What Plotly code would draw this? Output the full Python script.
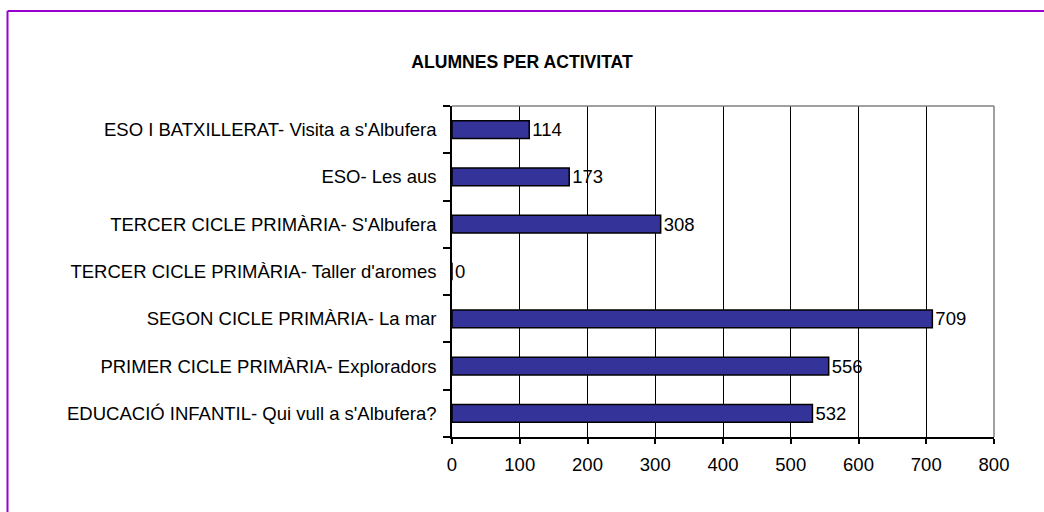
import plotly.graph_objects as go

categories = [
    "EDUCACIÓ INFANTIL- Qui vull a s'Albufera?",
    "PRIMER CICLE PRIMÀRIA- Exploradors",
    "SEGON CICLE PRIMÀRIA- La mar",
    "TERCER CICLE PRIMÀRIA- Taller d'aromes",
    "TERCER CICLE PRIMÀRIA- S'Albufera",
    "ESO- Les aus",
    "ESO I BATXILLERAT- Visita a s'Albufera",
]
values = [532, 556, 709, 0, 308, 173, 114]
x_ticks = [0, 100, 200, 300, 400, 500, 600, 700, 800]
title_text = "ALUMNES PER ACTIVITAT"

W, H = 1044, 512
L, R, T, B = 452, 50, 106, 75
pw = W - L - R
ph = H - T - B
FONT = "Liberation Sans, Arial"

fig = go.Figure()
fig.add_trace(go.Bar(
    y=categories, x=values, orientation="h",
    marker=dict(color="#333399", line=dict(color="#000000", width=1.5)),
    text=[str(v) for v in values], textposition="outside",
    constraintext="none",
    textfont=dict(family=FONT, size=18.5, color="#000000"),
    cliponaxis=False,
))

def px_to_paper_x(px):
    return (px - L) / pw

def py_to_paper_y(py):
    return (H - B - py) / ph

fig.update_layout(
    width=W, height=H,
    margin=dict(l=L, r=R, t=T, b=B, autoexpand=False),
    paper_bgcolor="white", plot_bgcolor="white",
    bargap=0.625,
    showlegend=False,
    font=dict(family=FONT, size=18.5, color="#000000"),
    title=dict(text="<b>" + title_text + "</b>", x=522 / W, xref="container", xanchor="center",
               y=1 - 62 / H, yref="container", yanchor="middle",
               font=dict(family=FONT, size=17.6, color="#000000")),
    xaxis=dict(range=[0, 800], tickvals=x_ticks, showgrid=True, gridcolor="#000000", gridwidth=1,
               zeroline=False, showline=True, linecolor="#000000", linewidth=1.5,
               ticks="outside", ticklen=5, tickcolor="#000000", tickwidth=1.5,
               ticklabelstandoff=5,
               tickfont=dict(family=FONT, size=18.5), fixedrange=True),
    yaxis=dict(type="category", categoryorder="array", categoryarray=categories,
               showgrid=False, zeroline=False, showline=True, linecolor="#000000", linewidth=1.5,
               ticks="outside", ticklen=7, tickcolor="#000000", tickwidth=1.5,
               tickson="boundaries", ticklabelstandoff=10,
               tickfont=dict(family=FONT, size=18.5), fixedrange=True),
    shapes=[
        dict(type="line", xref="paper", yref="paper", x0=0, x1=1, y0=1, y1=1,
             line=dict(color="#808080", width=1.5), layer="above"),
        dict(type="line", xref="paper", yref="paper", x0=1, x1=1, y0=0, y1=1,
             line=dict(color="#808080", width=1.5), layer="above"),
        dict(type="line", xref="paper", yref="paper",
             x0=px_to_paper_x(7.5), x1=px_to_paper_x(7.5),
             y0=py_to_paper_y(H + 5), y1=py_to_paper_y(11),
             line=dict(color="#9900CC", width=2), layer="above"),
        dict(type="line", xref="paper", yref="paper",
             x0=px_to_paper_x(7.5), x1=px_to_paper_x(W + 5),
             y0=py_to_paper_y(11), y1=py_to_paper_y(11),
             line=dict(color="#9900CC", width=2), layer="above"),
    ],
)

fig.write_html(
    "out.html",
    config={"displayModeBar": False},
    post_script="document.body.style.margin='0';document.body.style.overflow='hidden';",
)
